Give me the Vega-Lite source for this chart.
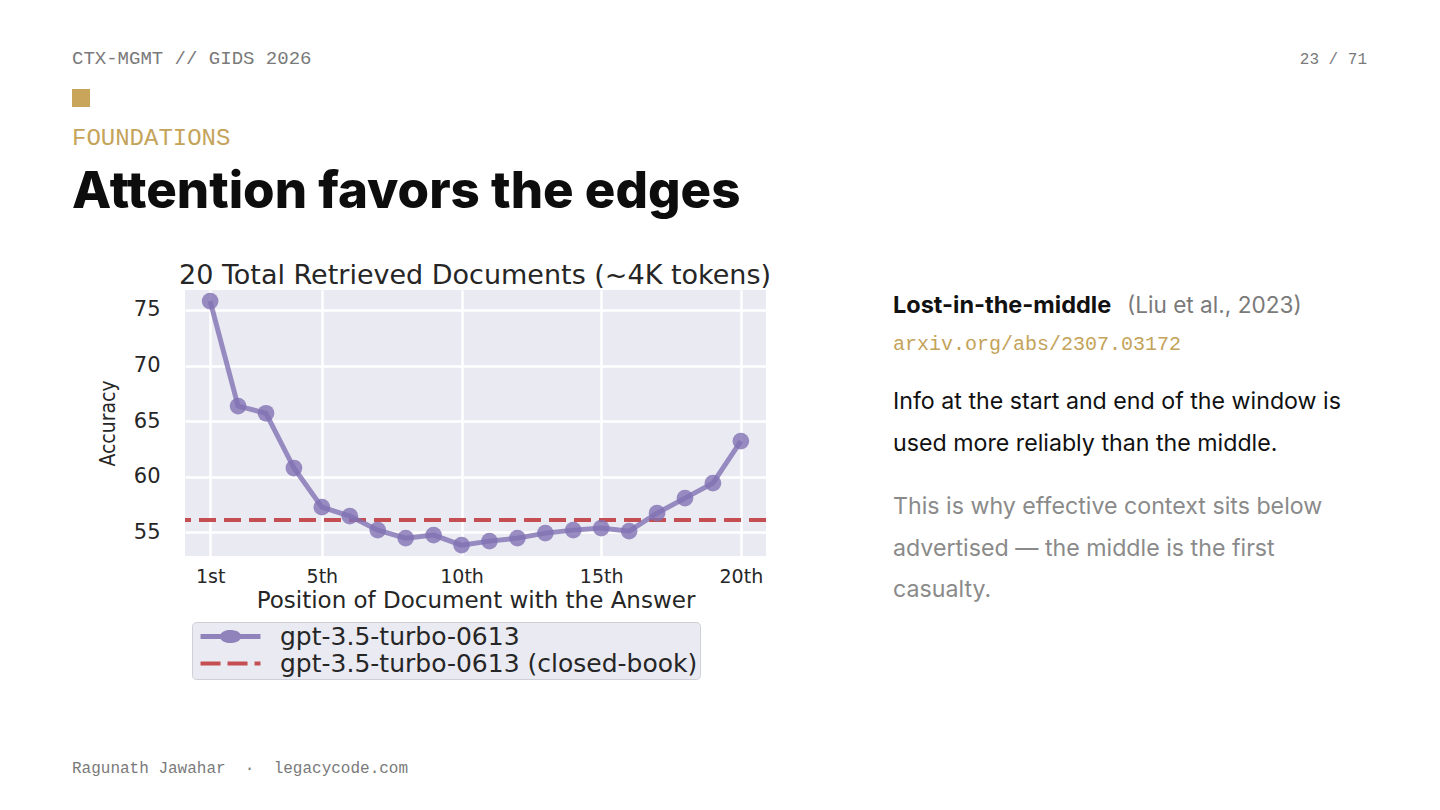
{
  "$schema": "https://vega.github.io/schema/vega-lite/v6.json",
  "width": 581,
  "height": 266,
  "autosize": "none",
  "padding": {"left": 185, "top": 290, "right": 674, "bottom": 254},
  "background": "#FFFFFF",
  "config": {
    "view": {"fill": "#EAEAF2", "stroke": null},
    "axis": {
      "domain": false,
      "ticks": false,
      "tickSize": 0,
      "grid": true,
      "gridColor": "#FFFFFF",
      "gridWidth": 2.5,
      "labelFont": "DejaVu Sans",
      "labelColor": "#262626",
      "titleColor": "#262626",
      "titleFontWeight": "normal"
    }
  },
  "layer": [
    {
      "data": {"values": [{"series": "gpt-3.5-turbo-0613 (closed-book)", "acc": 56.1}]},
      "mark": {"type": "rule", "strokeWidth": 4, "strokeDash": [17, 8]},
      "encoding": {
        "y": {
          "field": "acc",
          "type": "quantitative",
          "scale": {"domain": [52.85, 76.8], "nice": false, "zero": false},
          "axis": {
            "values": [55, 60, 65, 70, 75],
            "labelFontSize": 21,
            "labelPadding": 25,
            "title": "Accuracy",
            "titleFont": "'Liberation Sans Narrow', 'DejaVu Sans Condensed', 'Liberation Sans', sans-serif",
            "titleFontSize": 21,
            "titlePadding": 15
          }
        },
        "color": {
          "field": "series",
          "type": "nominal",
          "scale": {
            "domain": ["gpt-3.5-turbo-0613", "gpt-3.5-turbo-0613 (closed-book)"],
            "range": ["#8172B3", "#C44E52"]
          },
          "legend": {
            "orient": "none",
            "legendX": 7,
            "legendY": 332,
            "title": null,
            "fillColor": "#EAEAF2",
            "strokeColor": "#CFCFD6",
            "cornerRadius": 4,
            "padding": 2,
            "rowPadding": -3,
            "symbolSize": 324,
            "symbolOffset": 24,
            "labelOffset": 37,
            "labelFont": "DejaVu Sans",
            "labelFontSize": 25,
            "labelColor": "#262626",
            "labelLimit": 700,
            "encode": {
              "symbols": {
                "update": {
                  "shape": {"signal": "datum.label == 'gpt-3.5-turbo-0613' ? 'M-3.33,0H3.33M-0.9,0A0.9,0.45 0 1,0 0.9,0A0.9,0.45 0 1,0 -0.9,0Z' : 'M-3.33,0H3.33'"},
                  "fill": {"signal": "datum.label == 'gpt-3.5-turbo-0613' ? '#8172B3' : 'transparent'"},
                  "stroke": {"signal": "datum.label == 'gpt-3.5-turbo-0613' ? '#8172B3' : '#C44E52'"},
                  "strokeWidth": {"signal": "datum.label == 'gpt-3.5-turbo-0613' ? 5 : 4"},
                  "strokeDash": {"signal": "datum.label == 'gpt-3.5-turbo-0613' ? [1, 0] : [20, 7]"},
                  "opacity": {"signal": "datum.label == 'gpt-3.5-turbo-0613' ? 0.85 : 1"}
                }
              }
            }
          }
        }
      }
    },
    {
      "data": {
        "values": [
          {"pos": 1, "acc": 75.8, "series": "gpt-3.5-turbo-0613"},
          {"pos": 2, "acc": 66.35, "series": "gpt-3.5-turbo-0613"},
          {"pos": 3, "acc": 65.7, "series": "gpt-3.5-turbo-0613"},
          {"pos": 4, "acc": 60.77, "series": "gpt-3.5-turbo-0613"},
          {"pos": 5, "acc": 57.25, "series": "gpt-3.5-turbo-0613"},
          {"pos": 6, "acc": 56.44, "series": "gpt-3.5-turbo-0613"},
          {"pos": 7, "acc": 55.18, "series": "gpt-3.5-turbo-0613"},
          {"pos": 8, "acc": 54.46, "series": "gpt-3.5-turbo-0613"},
          {"pos": 9, "acc": 54.73, "series": "gpt-3.5-turbo-0613"},
          {"pos": 10, "acc": 53.83, "series": "gpt-3.5-turbo-0613"},
          {"pos": 11, "acc": 54.19, "series": "gpt-3.5-turbo-0613"},
          {"pos": 12, "acc": 54.46, "series": "gpt-3.5-turbo-0613"},
          {"pos": 13, "acc": 54.91, "series": "gpt-3.5-turbo-0613"},
          {"pos": 14, "acc": 55.18, "series": "gpt-3.5-turbo-0613"},
          {"pos": 15, "acc": 55.36, "series": "gpt-3.5-turbo-0613"},
          {"pos": 16, "acc": 55.09, "series": "gpt-3.5-turbo-0613"},
          {"pos": 17, "acc": 56.71, "series": "gpt-3.5-turbo-0613"},
          {"pos": 18, "acc": 58.06, "series": "gpt-3.5-turbo-0613"},
          {"pos": 19, "acc": 59.41, "series": "gpt-3.5-turbo-0613"},
          {"pos": 20, "acc": 63.2, "series": "gpt-3.5-turbo-0613"}
        ]
      },
      "encoding": {
        "x": {
          "field": "pos",
          "type": "quantitative",
          "scale": {"domain": [0.1, 20.9], "nice": false, "zero": false},
          "axis": {
            "values": [1, 5, 10, 15, 20],
            "labelExpr": "datum.value == 1 ? '1st' : datum.value + 'th'",
            "labelFontSize": 19,
            "labelPadding": 11,
            "title": "Position of Document with the Answer",
            "titleFont": "DejaVu Sans",
            "titleFontSize": 23,
            "titlePadding": 3
          }
        },
        "y": {"field": "acc", "type": "quantitative"},
        "color": {"field": "series", "type": "nominal"}
      },
      "layer": [
        {"mark": {"type": "line", "strokeWidth": 5, "opacity": 0.8}},
        {"mark": {"type": "point", "filled": true, "size": 280, "opacity": 0.8}}
      ]
    },
    {
      "data": {"values": [{"t": "20 Total Retrieved Documents (~4K tokens)"}]},
      "mark": {"type": "text", "font": "DejaVu Sans", "fontSize": 27, "color": "#262626", "align": "center", "baseline": "alphabetic"},
      "encoding": {"text": {"field": "t"}, "x": {"value": 290}, "y": {"value": -6}}
    },
    {
      "data": {"values": [{"t": "CTX-MGMT // GIDS 2026"}]},
      "mark": {"type": "text", "font": "Liberation Mono", "fontSize": 19, "color": "#7A7A7A", "align": "left", "baseline": "alphabetic"},
      "encoding": {"text": {"field": "t"}, "x": {"value": -113}, "y": {"value": -226}}
    },
    {
      "data": {"values": [{"t": "23 / 71"}]},
      "mark": {"type": "text", "font": "Liberation Mono", "fontSize": 16, "color": "#7A7A7A", "align": "right", "baseline": "alphabetic"},
      "encoding": {"text": {"field": "t"}, "x": {"value": 1182}, "y": {"value": -226}}
    },
    {
      "data": {"values": [{"t": "square"}]},
      "mark": {"type": "point", "shape": "square", "filled": true, "size": 324, "color": "#C8A55A", "opacity": 1},
      "encoding": {"x": {"value": -104}, "y": {"value": -192}}
    },
    {
      "data": {"values": [{"t": "FOUNDATIONS"}]},
      "mark": {"type": "text", "font": "Liberation Mono", "fontSize": 24, "color": "#C4A35A", "align": "left", "baseline": "alphabetic"},
      "encoding": {"text": {"field": "t"}, "x": {"value": -113}, "y": {"value": -145}}
    },
    {
      "data": {"values": [{"t": "Attention favors the edges"}]},
      "mark": {"type": "text", "font": "Inter", "fontSize": 51, "fontWeight": 800, "color": "#0D0D0D", "align": "left", "baseline": "alphabetic"},
      "encoding": {"text": {"field": "t"}, "x": {"value": -113}, "y": {"value": -82}}
    },
    {
      "data": {"values": [{"t": "Lost-in-the-middle"}]},
      "mark": {"type": "text", "font": "Inter", "fontSize": 23.5, "fontWeight": "bold", "color": "#111111", "align": "left", "baseline": "alphabetic"},
      "encoding": {"text": {"field": "t"}, "x": {"value": 708}, "y": {"value": 23}}
    },
    {
      "data": {"values": [{"t": "(Liu et al., 2023)"}]},
      "mark": {"type": "text", "font": "Inter", "fontSize": 22.6, "color": "#7A7A7A", "align": "left", "baseline": "alphabetic"},
      "encoding": {"text": {"field": "t"}, "x": {"value": 942}, "y": {"value": 23}}
    },
    {
      "data": {"values": [{"t": "arxiv.org/abs/2307.03172"}]},
      "mark": {"type": "text", "font": "Liberation Mono", "fontSize": 20, "color": "#C4A35A", "align": "left", "baseline": "alphabetic"},
      "encoding": {"text": {"field": "t"}, "x": {"value": 708}, "y": {"value": 60}}
    },
    {
      "data": {"values": [{"t": "Info at the start and end of the window is\nused more reliably than the middle."}]},
      "mark": {"type": "text", "font": "Inter", "fontSize": 23.2, "color": "#111111", "align": "left", "baseline": "alphabetic", "lineBreak": "\n", "lineHeight": 41.5},
      "encoding": {"text": {"field": "t"}, "x": {"value": 708}, "y": {"value": 119}}
    },
    {
      "data": {"values": [{"t": "This is why effective context sits below\nadvertised — the middle is the first\ncasualty."}]},
      "mark": {"type": "text", "font": "Inter", "fontSize": 23.2, "color": "#8A8A8A", "align": "left", "baseline": "alphabetic", "lineBreak": "\n", "lineHeight": 41.5},
      "encoding": {"text": {"field": "t"}, "x": {"value": 708}, "y": {"value": 224}}
    },
    {
      "data": {"values": [{"t": "Ragunath Jawahar\u00a0\u00a0·\u00a0\u00a0legacycode.com"}]},
      "mark": {"type": "text", "font": "Liberation Mono", "fontSize": 16, "color": "#7A7A7A", "align": "left", "baseline": "alphabetic"},
      "encoding": {"text": {"field": "t"}, "x": {"value": -113}, "y": {"value": 483}}
    }
  ]
}
